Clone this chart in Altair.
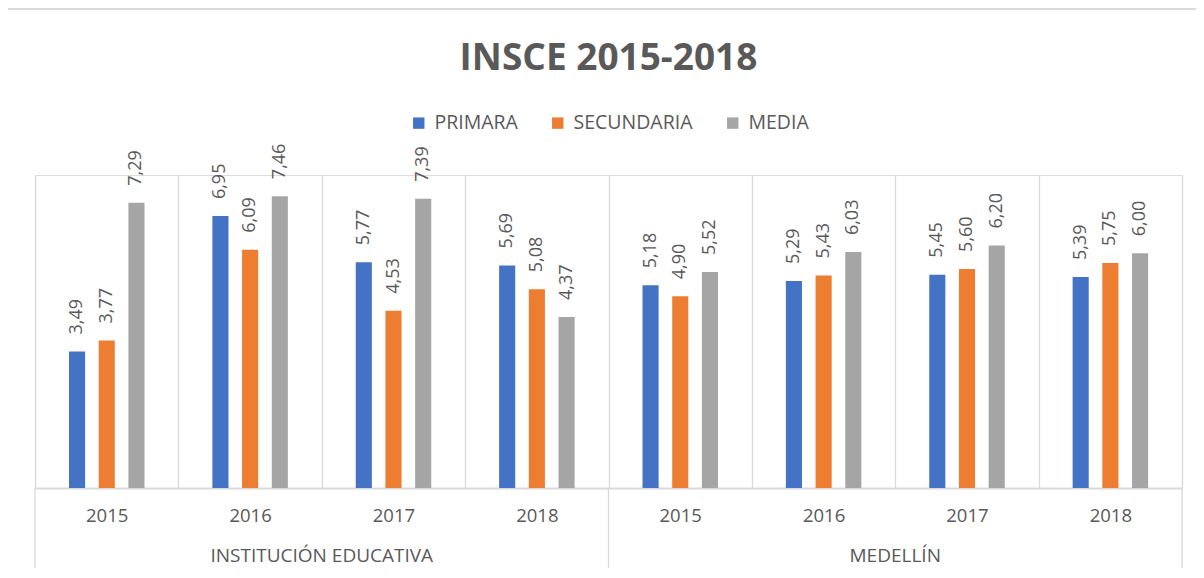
import altair as alt
import pandas as pd

groups = ["INSTITUCIÓN EDUCATIVA"] * 4 + ["MEDELLÍN"] * 4
years = ["2015", "2016", "2017", "2018"] * 2
series = ["PRIMARA", "SECUNDARIA", "MEDIA"]
primara = [3.49, 6.95, 5.77, 5.69, 5.18, 5.29, 5.45, 5.39]
secundaria = [3.77, 6.09, 4.53, 5.08, 4.90, 5.43, 5.60, 5.75]
media = [7.29, 7.46, 7.39, 4.37, 5.52, 6.03, 6.20, 6.00]
colors = ["#4472C4", "#ED7D31", "#A5A5A5"]

cats = [f"{g}|{y}" for g, y in zip(groups, years)]
rows = []
for vals, s in zip([primara, secundaria, media], series):
    for c, v in zip(cats, vals):
        rows.append({"cat": c, "serie": s, "valor": v})
df = pd.DataFrame(rows)

W, H = 1147, 313
FONT = "Open Sans"
GRAY = "#595959"
LINE = "#D9D9D9"

xscale = alt.Scale(domain=cats, paddingInner=0, paddingOuter=0)
xoff_scale = alt.Scale(domain=series, range=[34, 109.5], paddingInner=0.458, paddingOuter=0)
x_enc = alt.X(
    "cat:N", scale=xscale, sort=cats, title=None,
    axis=alt.Axis(
        labelExpr="split(datum.label, '|')[1]", labelAngle=0,
        labelFont=FONT, labelFontSize=18.5, labelColor=GRAY, labelPadding=18,
        ticks=False, grid=True, gridColor=LINE, gridWidth=1.3, tickBand="extent",
        domainColor=LINE, domainWidth=2,
    ),
)

base = alt.Chart(df)
bars = base.mark_bar().encode(
    x=x_enc,
    xOffset=alt.XOffset("serie:N", scale=xoff_scale, sort=series),
    y=alt.Y("valor:Q", scale=alt.Scale(domain=[0, 8], nice=False),
            axis=None),
    color=alt.Color(
        "serie:N", sort=series,
        scale=alt.Scale(domain=series, range=colors),
        legend=alt.Legend(
            title=None, orient="none", legendX=374, legendY=-62,
            direction="horizontal", symbolType="square", symbolSize=130,
            symbolStrokeWidth=0, labelFont=FONT, labelFontSize=19.5,
            labelColor=GRAY, columnPadding=30, labelOffset=6,
        ),
    ),
)
labels = base.transform_calculate(
    lab="replace(format(datum.valor, '.2f'), '.', ',')"
).mark_text(
    angle=270, align="left", baseline="middle", dx=17,
    font=FONT, fontSize=18, color=GRAY,
).encode(
    x=alt.X("cat:N", scale=xscale, sort=cats),
    xOffset=alt.XOffset("serie:N", scale=xoff_scale, sort=series),
    y=alt.Y("valor:Q"),
    text="lab:N",
)

gdf = pd.DataFrame({"anchor": [cats[1], cats[5]],
                    "name": ["INSTITUCIÓN EDUCATIVA", "MEDELLÍN"]})
glabels = alt.Chart(gdf).mark_text(
    font=FONT, fontSize=19, color=GRAY, baseline="middle",
).encode(
    x=alt.X("anchor:N", scale=xscale, sort=cats, bandPosition=1),
    y=alt.value(H + 68),
    text="name:N",
)

sdf = pd.DataFrame({"anchor": [cats[0], cats[4]]})
seps = alt.Chart(sdf).mark_rule(color=LINE, strokeWidth=1.3).encode(
    x=alt.X("anchor:N", scale=xscale, sort=cats, bandPosition=0),
    y=alt.value(H), y2=alt.value(H + 84),
)
edf = pd.DataFrame({"anchor": [cats[7]]})
sep_end = alt.Chart(edf).mark_rule(color=LINE, strokeWidth=1.3).encode(
    x=alt.X("anchor:N", scale=xscale, sort=cats, bandPosition=1),
    y=alt.value(H), y2=alt.value(H + 84),
)

# outer chart border
frame = alt.Chart(pd.DataFrame({"k": [0]})).mark_rule(color=LINE, strokeWidth=2).encode(
    x=alt.value(-29), x2=alt.value(W + 30), y=alt.value(-166)
)
frame_left = alt.Chart(pd.DataFrame({"k": [0]})).mark_rule(color=LINE, strokeWidth=2).encode(
    x=alt.value(-29), y=alt.value(-166), y2=alt.value(H + 90)
)

chart = alt.layer(bars, labels, glabels, seps, sep_end, frame, frame_left).properties(
    width=W, height=H,
    autosize=alt.AutoSizeParams(type="none"),
    padding={"left": 27, "top": 167, "right": 14, "bottom": 80},
    title=alt.TitleParams(
        "INSCE 2015-2018", font=FONT, fontSize=37, fontWeight="bold",
        color=GRAY, anchor="middle", offset=-70,
    ),
).configure_view(stroke=None).configure(background="white")

chart.save("out.html", embed_options={"renderer": "svg", "actions": False})
